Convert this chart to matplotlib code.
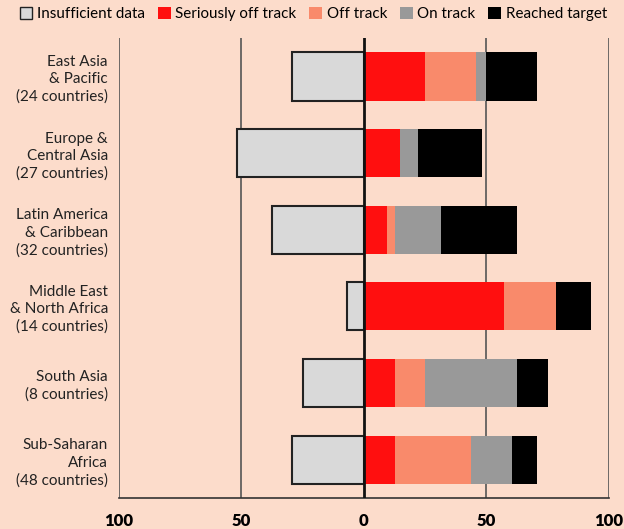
import matplotlib.pyplot as plt
from matplotlib.patches import Patch

plt.rcParams['font.family'] = ['Lato', 'DejaVu Sans']

# Regions and share of countries (%) in each status
regions = ["East Asia\n& Pacific\n(24 countries)",
           "Europe &\nCentral Asia\n(27 countries)",
           "Latin America\n& Caribbean\n(32 countries)",
           "Middle East\n& North Africa\n(14 countries)",
           "South Asia\n(8 countries)",
           "Sub-Saharan\nAfrica\n(48 countries)"]
insufficient = [29.2, 51.9, 37.5, 7.1, 25.0, 29.2]
seriously_off = [25.0, 14.8, 9.4, 57.1, 12.5, 12.5]
off_track = [20.8, 0.0, 3.1, 21.4, 12.5, 31.2]
on_track = [4.2, 7.4, 18.8, 0.0, 37.5, 16.7]
reached = [20.8, 25.9, 31.2, 14.3, 12.5, 10.4]

series_names = ["Seriously off track", "Off track", "On track", "Reached target"]
series_colors = ["#ff0f0f", "#f98a6b", "#999999", "#000000"]

bg = "#fcdccb"
fig = plt.figure(figsize=(6.24, 5.29), dpi=100, facecolor=bg)
ax = fig.add_axes([0.1907, 0.0586, 0.785, 0.8695], facecolor=bg)

y = list(range(len(regions)))
h = 0.63

# gridlines
for gx in [-100, -50, 50, 100]:
    ax.axvline(gx, color="#555555", lw=1.2, zorder=0)
ax.axvline(0, color="#111111", lw=2, zorder=3)

ax.barh(y, [-v for v in insufficient], height=h, color="#d9d9d9",
        edgecolor="#222222", linewidth=1.5, zorder=2)

left = [0.0] * len(regions)
for vals, col in zip([seriously_off, off_track, on_track, reached], series_colors):
    ax.barh(y, vals, left=left, height=h, color=col, linewidth=0, zorder=2)
    left = [a + b for a, b in zip(left, vals)]

ax.set_xlim(-100, 100)
ax.set_ylim(5.5, -0.5)
ax.set_yticks(y)
ax.set_yticklabels(regions, fontsize=11, color="#222222", linespacing=1.3)
ax.set_xticks([-100, -50, 0, 50, 100])
ax.set_xticklabels(["100", "50", "0", "50", "100"], fontsize=12, fontweight="heavy")
ax.tick_params(axis="x", length=0, pad=11)
ax.tick_params(axis="y", length=0, pad=8)
for s in ["top", "right", "left"]:
    ax.spines[s].set_visible(False)
ax.spines["bottom"].set_color("#333333")
ax.spines["bottom"].set_linewidth(1.2)

handles = [Patch(facecolor="#d9d9d9", edgecolor="#222222", label="Insufficient data")]
handles += [Patch(facecolor=c, label=n) for n, c in zip(series_names, series_colors)]
fig.legend(handles=handles, loc="upper center", bbox_to_anchor=(0.502, 1.01), ncol=5,
           frameon=False, fontsize=10.9, handlelength=0.85, handleheight=0.85,
           handletextpad=0.3, columnspacing=0.85, borderpad=0.3)

fig.savefig("out.png", dpi=100, facecolor=bg)
